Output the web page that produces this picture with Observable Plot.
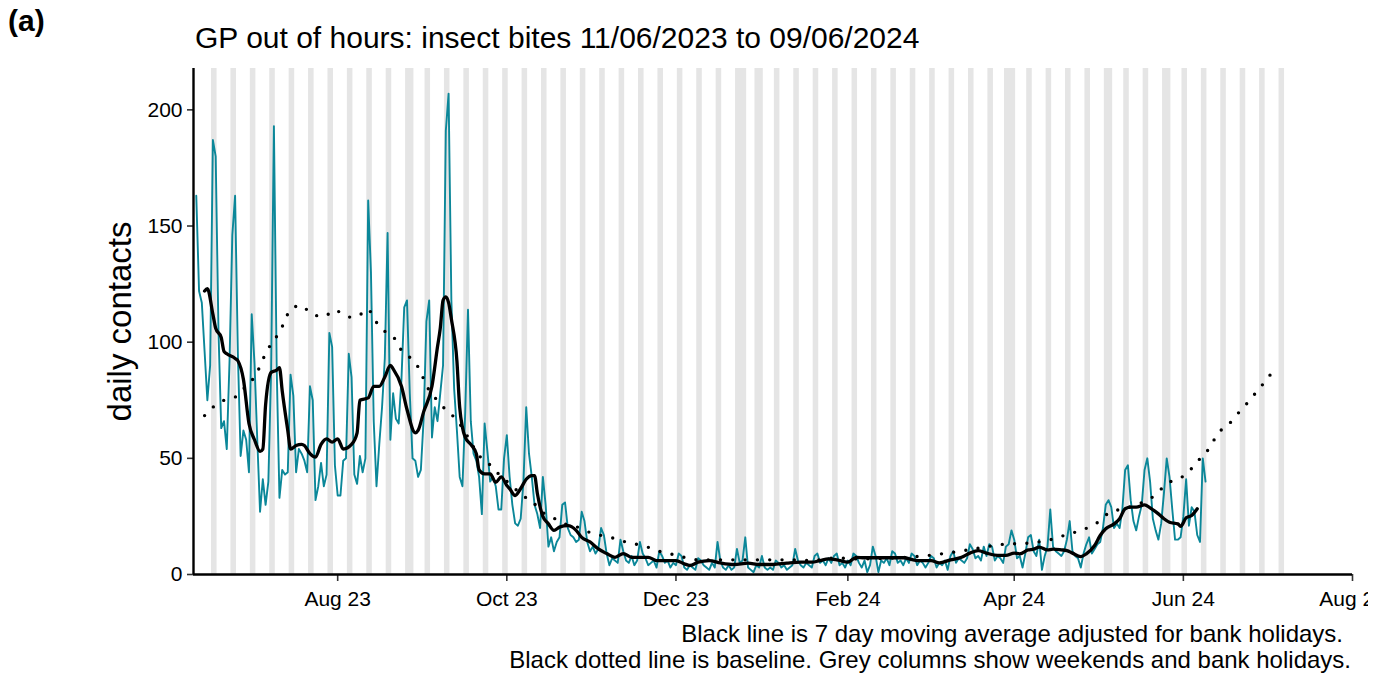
<!DOCTYPE html>
<html><head><meta charset="utf-8">
<script src="https://cdn.jsdelivr.net/npm/d3@7"></script>
<script src="https://cdn.jsdelivr.net/npm/@observablehq/plot@0.6"></script>
<style>
body{margin:0;background:#fff;font-family:"Liberation Sans",Arial,sans-serif;}
#wrap{position:relative;width:1387px;height:675px;overflow:hidden;background:#fff}
#chart{position:absolute;left:0;top:0}
.t{position:absolute;white-space:nowrap;line-height:1;color:#000}
</style></head><body>
<div id="wrap">
<div id="chart"></div>
<div class="t" style="left:8px;top:6px;font-size:30px;font-weight:bold">(a)</div>
<div class="t" style="left:195px;top:23px;font-size:30px">GP out of hours: insect bites 11/06/2023 to 09/06/2024</div>
<div class="t" style="right:44px;top:622px;font-size:24px">Black line is 7 day moving average adjusted for bank holidays.</div>
<div class="t" style="right:36px;top:648px;font-size:24px">Black dotted line is baseline. Grey columns show weekends and bank holidays.</div>
</div>
<script>
// ---- data ----
const dailyStart = "2023-06-11";
const dailyCounts = [
163,
122,117,96,75,90,187,180,
105,63,66,54,92,146,163,
95,51,62,58,44,112,91,
58,27,41,30,40,88,193,
89,33,45,43,44,86,77,
44,54,52,49,44,81,75,
32,38,48,38,43,104,98,
47,34,34,49,50,95,85,
43,39,51,44,50,161,130,
66,38,56,72,93,147,58,
78,67,65,84,115,118,78,
50,49,42,45,67,109,118,
59,72,66,78,90,191,207,
118,80,62,42,38,70,114,
66,52,49,42,26,65,53,
40,42,38,28,28,50,60,
42,30,22,21,24,40,72,
52,42,30,26,20,42,30,
12,16,10,14,16,30,31,
20,17,16,14,15,27,23,
14,10,12,9,11,20,17,
9,4,7,6,5,15,10,
6,5,8,4,6,14,9,
7,4,5,6,3,10,8,
5,6,3,5,4,9,8,
3,2,4,3,2,7,6,
4,3,2,5,3,14,6,
3,2,4,2,3,11,5,
6,16,3,2,1,4,3,
8,3,2,3,2,6,5,
3,4,2,3,4,11,6,
4,3,5,4,3,8,9,
5,6,4,7,5,8,9,
4,5,3,6,4,9,8,
5,3,6,1,4,12,8,
1,6,5,7,4,10,9,
5,6,4,7,5,9,8,
4,6,5,3,5,8,7,
3,5,4,6,2,8,10,
5,7,6,5,7,13,11,
7,8,6,12,8,13,12,
6,8,7,5,12,13,19,
15,7,8,3,9,16,17,
10,8,15,2,8,12,28,
12,10,9,8,10,15,23,
10,8,7,3,9,13,16,
9,11,13,14,20,30,32,
29,20,22,20,28,45,47,
32,23,19,25,30,45,50,
40,24,19,15,22,35,50,
42,28,15,15,16,25,41,
21,29,27,17,14,50,40
];

const maDates = ["2023-06-14","2023-06-15","2023-06-17","2023-06-18","2023-06-20","2023-06-21","2023-06-22","2023-06-25","2023-06-26","2023-06-28","2023-06-30","2023-07-02","2023-07-04","2023-07-05","2023-07-06","2023-07-08","2023-07-10","2023-07-11","2023-07-12","2023-07-14","2023-07-15","2023-07-17","2023-07-19","2023-07-20","2023-07-22","2023-07-24","2023-07-26","2023-07-28","2023-07-30","2023-08-01","2023-08-03","2023-08-06","2023-08-08","2023-08-09","2023-08-12","2023-08-14","2023-08-16","2023-08-18","2023-08-20","2023-08-21","2023-08-24","2023-08-26","2023-08-29","2023-08-30","2023-09-01","2023-09-04","2023-09-06","2023-09-07","2023-09-08","2023-09-09","2023-09-10","2023-09-11","2023-09-13","2023-09-14","2023-09-16","2023-09-18","2023-09-20","2023-09-21","2023-09-23","2023-09-25","2023-09-27","2023-09-29","2023-10-01","2023-10-02","2023-10-04","2023-10-06","2023-10-08","2023-10-10","2023-10-11","2023-10-12","2023-10-14","2023-10-16","2023-10-18","2023-10-20","2023-10-23","2023-10-26","2023-10-28","2023-10-31","2023-11-03","2023-11-06","2023-11-09","2023-11-12","2023-11-15","2023-11-18","2023-11-21","2023-11-24","2023-11-28","2023-12-01","2023-12-04","2023-12-06","2023-12-09","2023-12-13","2023-12-17","2023-12-22","2023-12-27","2023-12-31","2024-01-05","2024-01-10","2024-01-15","2024-01-19","2024-01-22","2024-01-25","2024-01-28","2024-02-01","2024-02-04","2024-02-07","2024-02-12","2024-02-16","2024-02-21","2024-02-26","2024-03-02","2024-03-05","2024-03-09","2024-03-13","2024-03-16","2024-03-19","2024-03-22","2024-03-26","2024-03-29","2024-04-01","2024-04-03","2024-04-06","2024-04-08","2024-04-10","2024-04-13","2024-04-15","2024-04-18","2024-04-20","2024-04-22","2024-04-25","2024-04-27","2024-04-30","2024-05-02","2024-05-04","2024-05-07","2024-05-09","2024-05-11","2024-05-13","2024-05-15","2024-05-18","2024-05-20","2024-05-23","2024-05-25","2024-05-27","2024-05-30","2024-05-31","2024-06-02","2024-06-04","2024-06-06"];
const maValues = [122,123,112,106,102,96,95,93,92,84,65,58,53,54,73,87,88,89,79,62,54,55.5,56,55.5,52,50.5,56,58.4,57,58.4,54,56,61,75,76,81,81,85,90,88.5,81,71,61,62,70,81,98,106,118,119.5,117,110,92,72,59,56,52,45,43.3,43.3,39.7,42,38.3,37,34,37,41,42.6,42.6,35,25,21.8,19,20.4,21,19,16,14,11,9,7.4,9,7.4,7.4,7.4,6,6,6,4.6,3.9,5.3,6,5,4.3,4.9,4.3,4.3,4.9,5.3,5.3,6,6.7,6.3,5.3,7.4,7.2,7.2,7.2,7.2,6,6,5,6.3,7.4,9.2,10.3,9.2,8.2,8.2,9.2,8.9,10.6,10.9,11.8,10.6,10.9,10.6,10.3,9.2,7.7,8.9,12.5,16.8,19.7,21.8,24,28.3,29,29,30,28.7,26.1,24,22.5,21.8,20.7,24.4,25.4,28.3];

const baseDates = ["2023-06-14","2023-06-17","2023-06-21","2023-06-26","2023-06-29","2023-07-02","2023-07-06","2023-07-08","2023-07-11","2023-07-13","2023-07-15","2023-07-19","2023-07-22","2023-07-27","2023-07-31","2023-08-03","2023-08-06","2023-08-09","2023-08-12","2023-08-14","2023-08-17","2023-08-19","2023-08-22","2023-08-24","2023-08-27","2023-08-30","2023-09-01","2023-09-03","2023-09-06","2023-09-09","2023-09-12","2023-09-15","2023-09-18","2023-09-20","2023-09-22","2023-09-26","2023-09-29","2023-10-03","2023-10-06","2023-10-10","2023-10-13","2023-10-17","2023-10-21","2023-10-25","2023-10-30","2023-11-03","2023-11-08","2023-11-12","2023-11-16","2023-11-21","2023-11-25","2023-11-30","2023-12-04","2023-12-09","2023-12-27","2024-01-10","2024-01-19","2024-01-28","2024-02-02","2024-02-16","2024-03-01","2024-03-10","2024-03-19","2024-03-28","2024-04-06","2024-04-15","2024-04-19","2024-04-24","2024-04-28","2024-05-02","2024-05-05","2024-05-11","2024-05-15","2024-05-18","2024-05-22","2024-05-25","2024-05-29","2024-06-02","2024-06-05","2024-06-08","2024-06-11","2024-06-13","2024-06-17","2024-06-20","2024-06-23","2024-06-26","2024-06-29","2024-07-03"];
const baseValues = [68.4,72,75,77,81.3,85,95,99.3,104.3,109.3,114.3,115.8,112.6,111,113.9,111.8,110.7,111.8,114.3,110,106.2,103.3,101,96.4,93.5,89.3,84.2,79.2,74.9,70.9,67.7,63.1,57,53,49.8,46.2,41.9,38.3,34.3,31.8,27.5,25,22.1,21.1,18.5,17.1,15.8,14.3,13.2,11.7,10,8.6,7.4,6.3,6.3,6.3,6,7.2,6.7,7,8.2,9.6,11.3,13,13.5,15.3,16.8,18.6,20.4,23.2,26.4,28.5,30,31.5,34.3,38,41,43,47.2,51.2,55.4,60.1,64.1,68.4,72.3,76.6,80.9,87];

const weekendFrom = "2023-06-17";
const weekendTo = "2024-07-07";
const bankHolidays = ["2023-08-28","2023-12-25","2023-12-26","2024-01-01","2024-03-29","2024-04-01","2024-05-06","2024-05-27"];

const xTickDates = ["2023-08-01","2023-10-01","2023-12-01","2024-02-01","2024-04-01","2024-06-01","2024-08-01"];
const yTickValues = [0, 50, 100, 150, 200];
const xDomain = ["2023-06-10", "2024-08-01"];
const yTop = 217.8;

// ---- build tables ----
const P = d3.utcParse("%Y-%m-%d");
const start = P(dailyStart);
const daily = dailyCounts.map((v, i) => ({date: d3.utcDay.offset(start, i), value: v}));
const ma = maDates.map((d, i) => ({date: P(d), value: maValues[i]}));
const base = baseDates.map((d, i) => ({date: P(d), value: baseValues[i]}));

// grey days = weekends + bank holidays, merged into consecutive runs
const bhSet = new Set(bankHolidays);
const fmt = d3.utcFormat("%Y-%m-%d");
const greyDays = d3.utcDay.range(P(weekendFrom), d3.utcDay.offset(P(weekendTo), 1))
  .filter(d => d.getUTCDay() === 0 || d.getUTCDay() === 6 || bhSet.has(fmt(d)));
const runs = [];
for (const d of greyDays) {
  const last = runs[runs.length - 1];
  if (last && +d3.utcDay.offset(last.end, 1) === +d) last.end = d;
  else runs.push({start: d, end: d});
}

const W = 1368;
const chart = Plot.plot({
  width: W,
  height: 675,
  marginLeft: 193,
  marginRight: W - 1352,
  marginTop: 68,
  marginBottom: 101,
  style: {fontFamily: '"Liberation Sans", Arial, sans-serif', color: "#000", background: "transparent"},
  x: {type: "utc", domain: xDomain.map(P)},
  y: {domain: [0, yTop]},
  marks: [
    Plot.rect(runs, {x1: d => d3.utcHour.offset(d.start, -12), x2: d => d3.utcHour.offset(d.end, 12), y1: 0, y2: yTop, fill: "#e5e5e5"}),
    Plot.line(daily, {x: "date", y: "value", stroke: "#0b8799", strokeWidth: 1.9}),
    Plot.line(base, {x: "date", y: "value", stroke: "#000", strokeWidth: 3.4, strokeDasharray: "0 12.3", strokeLinecap: "round", curve: "monotone-x"}),
    Plot.line(ma, {x: "date", y: "value", stroke: "#000", strokeWidth: 3.3, curve: "monotone-x"}),
    Plot.axisX({ticks: xTickDates.map(P), tickFormat: d3.utcFormat("%b %y"), tickSize: 7, tickPadding: 10, fontSize: 21, label: null, strokeWidth: 1.6, stroke: "#333"}),
    Plot.axisY({ticks: yTickValues, tickSize: 6, tickPadding: 5, fontSize: 21, label: null, strokeWidth: 1.6, stroke: "#333"}),
    Plot.ruleY([0], {stroke: "#000", strokeWidth: 2.4}),
    Plot.ruleX([P(xDomain[0])], {stroke: "#000", strokeWidth: 2.4}),
    Plot.text(["daily contacts"], {frameAnchor: "left", dx: -73, rotate: -90, textAnchor: "middle", fontSize: 33, fill: "#000"})
  ]
});
document.getElementById("chart").appendChild(chart);
</script>
</body></html>
